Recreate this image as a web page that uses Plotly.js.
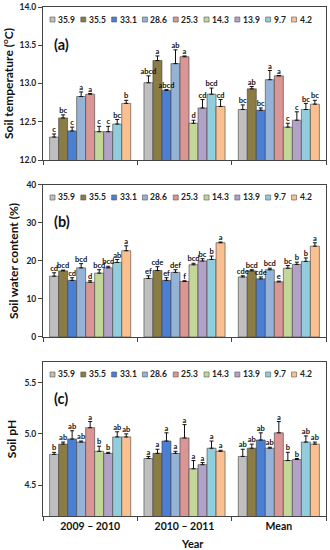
<!DOCTYPE html>
<html>
<head>
<meta charset="utf-8">
<script src="https://cdn.plot.ly/plotly-3.0.1.min.js"></script>
<style>html,body{margin:0;padding:0;background:#fff;}#chart{width:330px;height:550px;}</style>
</head>
<body>
<div id="chart"></div>
<script>
const categories = ['2009 – 2010', '2010 – 2011', 'Mean'];
const treatments = ['35.9', '35.5', '33.1', '28.6', '25.3', '14.3', '13.9', '9.7', '4.2'];
const colors = ['#bfbfbf', '#8b7b45', '#4a7fd4', '#95b3d7', '#da9694', '#c4d79b', '#b3a2c7', '#92cddc', '#fac090'];

// Panel (a) soil temperature, rows = treatments, cols = categories
const tempMean = [
  [12.30, 13.01, 12.66], [12.55, 13.30, 12.93], [12.38, 12.91, 12.65],
  [12.83, 13.26, 13.05], [12.86, 13.35, 13.10], [12.37, 12.48, 12.43],
  [12.37, 12.68, 12.52], [12.47, 12.86, 12.66], [12.74, 12.70, 12.73]
];
const tempErr = [
  [0.04, 0.09, 0.06], [0.04, 0.06, 0.03], [0.05, 0.01, 0.03],
  [0.06, 0.18, 0.12], [0.01, 0.01, 0.005], [0.07, 0.04, 0.05],
  [0.07, 0.11, 0.11], [0.06, 0.08, 0.08], [0.04, 0.09, 0.05]
];
const tempLetters = [
  ['c', 'abcd', 'bc'], ['bc', 'a', 'ab'], ['c', 'abcd', 'bc'],
  ['a', 'ab', 'a'], ['a', 'a', 'a'], ['c', 'd', 'c'],
  ['c', 'cd', 'c'], ['bc', 'bcd', 'bc'], ['b', 'cd', 'bc']
];

// Panel (b) soil water content
const waterMean = [
  [16.0, 15.4, 15.8], [17.4, 17.5, 17.4], [14.9, 14.9, 15.3],
  [18.2, 17.0, 17.7], [14.4, 14.6, 14.5], [16.8, 19.0, 18.1],
  [18.2, 20.0, 19.1], [19.6, 20.4, 19.9], [22.7, 24.8, 23.9]
];
const waterErr = [
  [0.9, 0.7, 0.3], [0.2, 1.0, 0.3], [0.7, 0.7, 0.5],
  [1.1, 0.7, 0.4], [0.4, 0.2, 0.2], [0.9, 0.4, 0.7],
  [0.4, 0.6, 0.6], [0.8, 0.9, 0.9], [1.3, 0.2, 0.9]
];
const waterLetters = [
  ['cd', 'ef', 'cde'], ['bcd', 'cde', 'bcd'], ['cd', 'ef', 'cde'],
  ['bcd', 'def', 'bcd'], ['d', 'f', 'e'], ['bcd', 'bcd', 'bc'],
  ['bcd', 'bc', 'b'], ['ab', 'b', 'b'], ['a', 'a', 'a']
];

// Panel (c) soil pH
const phMean = [
  [4.80, 4.76, 4.78], [4.90, 4.81, 4.86], [4.95, 4.93, 4.94],
  [4.92, 4.81, 4.86], [5.06, 4.96, 5.01], [4.83, 4.66, 4.74],
  [4.81, 4.70, 4.75], [4.97, 4.86, 4.92], [4.97, 4.83, 4.90]
];
const phErr = [
  [0.02, 0.02, 0.07], [0.02, 0.04, 0.04], [0.08, 0.08, 0.07],
  [0.01, 0.02, 0.01], [0.06, 0.13, 0.11], [0.05, 0.08, 0.08],
  [0.01, 0.02, 0.01], [0.05, 0.07, 0.06], [0.03, 0.01, 0.02]
];
const phLetters = [
  ['b', 'a', 'ab'], ['ab', 'a', 'ab'], ['ab', 'a', 'ab'],
  ['ab', 'a', 'ab'], ['a', 'a', 'a'], ['b', 'a', 'b'],
  ['b', 'a', 'b'], ['ab', 'a', 'ab'], ['ab', 'a', 'ab']
];

const panelLabels = ['(a)', '(b)', '(c)'];
const yTitles = ['Soil temperature (<sup>o</sup>C)', 'Soil water content (%)', 'Soil pH'];
const yRanges = [[12, 14], [0, 40], [4.2, 5.7]];
const yDticks = [0.5, 10, 0.5];
const yFormats = ['.1f', 'd', '.1f'];

const FONT = 'Lato, "Open Sans", sans-serif';
const BARGAP = 0.14;
const nT = treatments.length;
const barW = (1 - BARGAP) / nT;

const panels = [
  {mean: tempMean, err: tempErr, letters: tempLetters},
  {mean: waterMean, err: waterErr, letters: waterLetters},
  {mean: phMean, err: phErr, letters: phLetters}
];

const traces = [];
panels.forEach((p, pi) => {
  const xa = pi === 0 ? 'x' : 'x' + (pi + 1);
  const ya = pi === 0 ? 'y' : 'y' + (pi + 1);
  const xo = 'x' + (pi + 4);
  treatments.forEach((t, ti) => {
    traces.push({
      type: 'bar', name: t, x: categories, y: p.mean[ti],
      xaxis: xa, yaxis: ya, showlegend: false,
      marker: {color: colors[ti], line: {color: '#404040', width: 0.6}},
      error_y: {type: 'data', symmetric: false, array: p.err[ti],
                arrayminus: p.err[ti].map(() => 0), color: '#111', thickness: 1, width: 2},
      hoverinfo: 'skip'
    });
    const off = -(1 - BARGAP) / 2 + (ti + 0.5) * barW;
    traces.push({
      type: 'scatter', mode: 'text',
      x: categories.map((c, ci) => ci + off),
      y: p.mean[ti].map((v, ci) => v + p.err[ti][ci]),
      text: p.letters[ti], textposition: 'top center',
      textfont: {family: FONT, size: 7.5, color: '#111', weight: 'bold'},
      xaxis: xo, yaxis: ya, showlegend: false, cliponaxis: false, hoverinfo: 'skip'
    });
  });
});

// domains (paper fractions)
const yDomains = [[0.6994, 1], [0.3517, 0.6503], [0, 0.3026]];

const layout = {
  width: 330, height: 550,
  margin: {l: 43, r: 4, t: 7, b: 34},
  paper_bgcolor: '#fff', plot_bgcolor: '#fff',
  barmode: 'group', bargap: BARGAP, bargroupgap: 0,
  font: {family: FONT, size: 9, color: '#222', weight: 'bold'},
  showlegend: false,
  annotations: [], shapes: []
};

// text width measure for custom legend
const cvs = document.createElement('canvas');
const ctx = cvs.getContext('2d');
ctx.font = 'bold 8.5px Lato';

for (let pi = 0; pi < 3; pi++) {
  const sfx = pi === 0 ? '' : String(pi + 1);
  const ya = 'y' + sfx;
  layout['xaxis' + sfx] = {
    domain: [0, 1], anchor: ya, type: 'category', range: [-0.5, 2.5],
    tickson: 'boundaries', ticks: 'outside', ticklen: 4, tickcolor: '#444',
    showticklabels: pi === 2, showline: true, linecolor: '#444', linewidth: 1,
    mirror: true, showgrid: false, zeroline: false,
    tickfont: {family: FONT, size: 10.5, color: '#111', weight: 'bold'}, fixedrange: true
  };
  layout['yaxis' + sfx] = {
    domain: yDomains[pi], anchor: 'x' + sfx, range: yRanges[pi], dtick: yDticks[pi],
    tickformat: yFormats[pi], ticks: 'outside', ticklen: 4, tickcolor: '#444',
    showline: true, linecolor: '#444', linewidth: 1, mirror: true,
    showgrid: false, zeroline: false,
    tickfont: {family: FONT, size: 8.5, color: '#222', weight: 'bold'},
    title: {text: yTitles[pi], font: {family: FONT, size: 12, color: '#111', weight: 'bold'}, standoff: 5},
    fixedrange: true
  };
  layout['xaxis' + (pi + 4)] = {
    overlaying: 'x' + sfx, anchor: ya, range: [-0.5, 2.5], visible: false, fixedrange: true
  };
  // panel label
  layout.annotations.push({
    text: panelLabels[pi], xref: 'x' + sfx + ' domain', yref: ya + ' domain',
    x: 0.032, y: 1, yshift: -37, xanchor: 'left', yanchor: 'middle', showarrow: false,
    font: {family: FONT, size: 14.5, color: '#111', weight: 'bold'}
  });
  // custom legend
  let pos = 7;
  treatments.forEach((t, ti) => {
    layout.shapes.push({
      type: 'rect', xref: 'x' + sfx + ' domain', yref: ya + ' domain',
      xsizemode: 'pixel', ysizemode: 'pixel', xanchor: 0, yanchor: 1,
      x0: pos, x1: pos + 5, y0: -15, y1: -10,
      fillcolor: colors[ti], line: {color: '#555', width: 0.6}
    });
    layout.annotations.push({
      text: t, xref: 'x' + sfx + ' domain', yref: ya + ' domain',
      x: 0, xshift: pos + 6, y: 1, yshift: -12.5, xanchor: 'left', yanchor: 'middle',
      showarrow: false, font: {family: FONT, size: 8.5, color: '#222', weight: 'bold'}
    });
    pos += 6 + ctx.measureText(t).width + 8;
  });
}

layout.annotations.push({
  text: 'Year', xref: 'x3 domain', yref: 'paper', x: 0.53, y: 0, yshift: -27,
  xanchor: 'center', yanchor: 'middle', showarrow: false,
  font: {family: FONT, size: 11, color: '#111', weight: 'bold'}
});

Plotly.newPlot('chart', traces, layout, {staticPlot: true});
</script>
</body>
</html>
